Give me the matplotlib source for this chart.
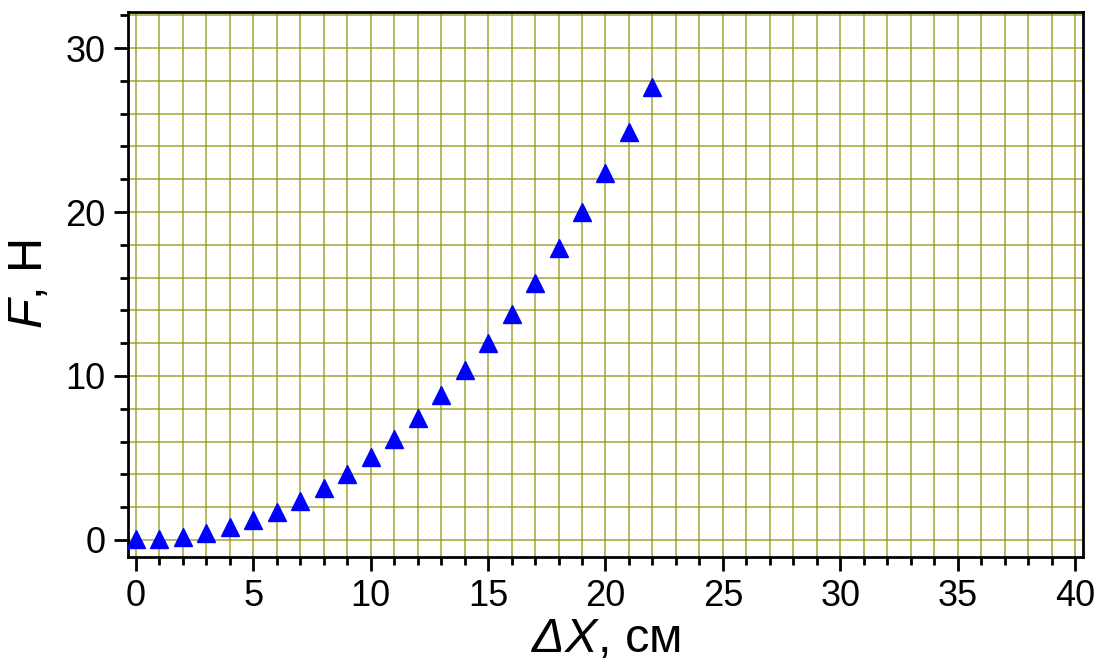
import matplotlib
matplotlib.use("Agg")
import matplotlib.pyplot as plt
from matplotlib.ticker import MultipleLocator

plt.rcParams["font.family"] = ["Liberation Sans", "DejaVu Sans"]
plt.rcParams["mathtext.fontset"] = "custom"
# italic for both Latin and Greek symbols inside $...$
plt.rcParams["mathtext.it"] = "Liberation Sans:italic"
plt.rcParams["mathtext.rm"] = "Liberation Sans:italic"

# Measured extension (cm) and force (N)
dx_cm = [0, 1, 2, 3, 4, 5, 6, 7, 8, 9, 10, 11, 12, 13, 14, 15, 16, 17, 18, 19, 20, 21, 22]
force_n = [0.05, 0.06, 0.2, 0.45, 0.76, 1.2, 1.73, 2.38, 3.14, 4.02, 5.03, 6.16, 7.44,
           8.84, 10.37, 12.0, 13.8, 15.7, 17.8, 20.0, 22.4, 24.9, 27.6]

x_ticks = [0, 5, 10, 15, 20, 25, 30, 35, 40]
y_ticks = [0, 10, 20, 30]

GRID_COLOR = "#949410"

fig = plt.figure(figsize=(10.98, 6.66), dpi=100)
ax = fig.add_axes([0.1166, 0.1637, 0.8697, 0.8183])

ax.plot(dx_cm, force_n, ls="none", marker="^", ms=13, color="#0000ff",
        markeredgecolor="#0000ff", zorder=3)

ax.set_xlim(-0.34, 40.34)
ax.set_ylim(-1.04, 32.2)
ax.set_xticks(x_ticks)
ax.set_yticks(y_ticks)
ax.xaxis.set_minor_locator(MultipleLocator(1))
ax.yaxis.set_minor_locator(MultipleLocator(2))

ax.grid(True, which="both", color=GRID_COLOR, lw=1.1, alpha=0.85, zorder=0)
ax.set_axisbelow(True)

for sp in ax.spines.values():
    sp.set_linewidth(2.0)
    sp.set_color("black")

ax.tick_params(axis="both", which="major", direction="out", length=10, width=2,
               labelsize=26, pad=6, top=False, right=False)
ax.tick_params(axis="both", which="minor", direction="out", length=6, width=2,
               top=False, right=False)

ax.set_xlabel(r"$\Delta X$, см", fontsize=35, labelpad=2)
ax.set_ylabel(r"$F$, Н", fontsize=35, labelpad=10)

fig.savefig("out.png", dpi=100)
